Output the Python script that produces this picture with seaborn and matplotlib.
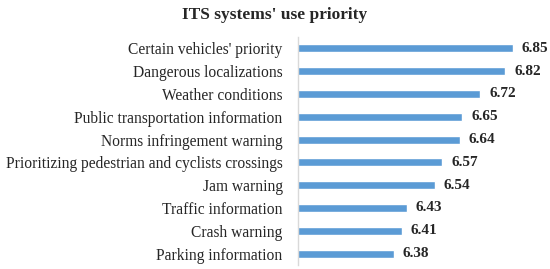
import matplotlib
matplotlib.use("Agg")
import matplotlib.pyplot as plt
import seaborn as sns
import pandas as pd

# data (top to bottom)
systems = ["Certain vehicles' priority", "Dangerous localizations", "Weather conditions",
           "Public transportation information", "Norms infringement warning",
           "Prioritizing pedestrian and cyclists crossings", "Jam warning",
           "Traffic information", "Crash warning", "Parking information"]
scores = [6.85, 6.82, 6.72, 6.65, 6.64, 6.57, 6.54, 6.43, 6.41, 6.38]

df = pd.DataFrame({"system": systems, "score": scores})

sns.set_style("white")
plt.rcParams["font.family"] = ["Liberation Serif", "DejaVu Serif"]

fig = plt.figure(figsize=(5.5, 2.69), dpi=100)
ax = fig.add_axes([298 / 550, 4 / 269, 253 / 550, 228 / 269])

sns.barplot(data=df, x="score", y="system", color="#5B9BD5", width=0.35,
            saturation=1, ax=ax)

ax.set_xlim(6.0, 7.0)
ax.set_ylim(len(systems) - 0.5, -0.5)
ax.set_xlabel("")
ax.set_ylabel("")
ax.set_xticks([])
ax.tick_params(axis="y", length=0, pad=11, labelsize=11.2, labelcolor="#262626")
for s in ["top", "right", "bottom"]:
    ax.spines[s].set_visible(False)
ax.spines["left"].set_color("#d9d9d9")
ax.spines["left"].set_linewidth(1)

for i, v in enumerate(scores):
    ax.text(v + 0.035, i, f"{v:.2f}", va="center", ha="left",
            fontsize=11, fontweight="bold", color="#262626")

fig.suptitle("ITS systems' use priority", x=0.5, y=0.975, fontsize=12.5,
             fontweight="bold", color="#262626")

fig.savefig("out.png", dpi=100)
